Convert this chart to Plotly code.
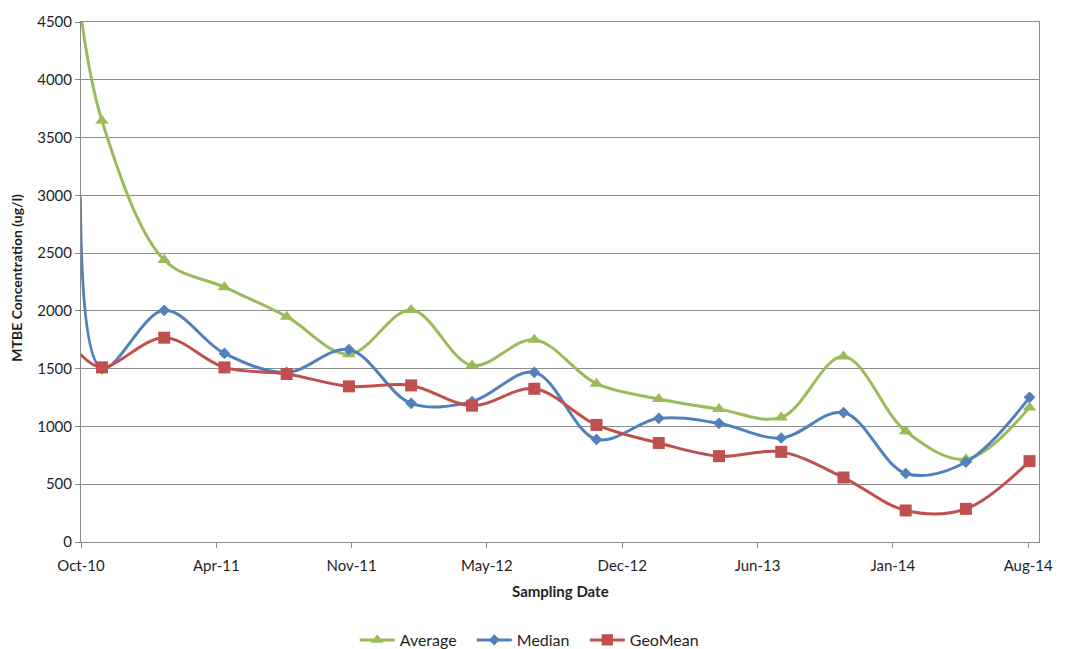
import plotly.graph_objects as go

# Quarterly sampling dates (first round is one day before the axis start)
sample_dates = [
    "2010-09-30", "2010-11-01", "2011-02-01", "2011-05-01", "2011-08-01",
    "2011-11-01", "2012-02-01", "2012-05-01", "2012-08-01", "2012-11-01",
    "2013-02-01", "2013-05-01", "2013-08-01", "2013-11-01", "2014-02-01",
    "2014-05-01", "2014-08-03",
]

# MTBE concentration statistics (ug/l)
average = [4600, 3646, 2440, 2205, 1950, 1625, 2008, 1528, 1750, 1370,
           1238, 1150, 1078, 1605, 958, 717, 1165]
median = [2990, 1500, 2005, 1632, 1468, 1665, 1200, 1215, 1468, 888,
          1070, 1027, 900, 1120, 593, 692, 1252]
geomean = [1625, 1511, 1768, 1511, 1454, 1347, 1355, 1180, 1326, 1013,
           857, 743, 780, 558, 273, 287, 700]

series_names = ["Average", "Median", "GeoMean"]

# Date axis: starts 1 Oct 2010, ticks every 200 days
axis_start = "2010-10-01"
axis_end = "2014-08-17"
tick_step_ms = 200 * 24 * 3600 * 1000

GREEN = "#9BBB59"
BLUE = "#4F81BD"
RED = "#C0504D"
GRID = "#8c8c8c"
TEXT = "#1f1f1f"
FONT = "Lato"

fig = go.Figure()

# one legend per series so each entry sits at its own x position
styles = [
    (average, GREEN, "triangle-up", 12, "legend", 0.2857),
    (median, BLUE, "diamond", 9, "legend2", 0.4079),
    (geomean, RED, "square", 12, "legend3", 0.5259),
]
legend_layouts = {}
for name, (vals, color, symbol, size, leg, leg_x) in zip(series_names, styles):
    # the pre-axis sampling round only shapes the line; no marker for it
    sizes = [0] + [size] * (len(vals) - 1)
    fig.add_trace(go.Scatter(
        x=sample_dates, y=vals, name=name,
        mode="lines+markers",
        line=dict(color=color, width=3, shape="spline", smoothing=1.0),
        marker=dict(symbol=symbol, size=sizes, color=color, opacity=1,
                    line=dict(width=0)),
        cliponaxis=True,
        legend=leg,
    ))
    legend_layouts[leg] = dict(
        orientation="h", x=leg_x, xanchor="left",
        yref="container", y=0.0139, yanchor="middle",
        font=dict(family=FONT, size=16, color=TEXT),
        itemwidth=35, bgcolor="rgba(0,0,0,0)",
    )

fig.update_layout(
    width=1065, height=649,
    margin=dict(l=81, r=18, t=15, b=107),
    paper_bgcolor="white", plot_bgcolor="white",
    font=dict(family=FONT, size=15, color=TEXT),
    showlegend=True,
    xaxis=dict(
        type="date",
        range=[axis_start, axis_end],
        tick0=axis_start, dtick=tick_step_ms,
        tickformat="%b-%y",
        showgrid=False,
        showline=True, linecolor=GRID, linewidth=1, mirror=True,
        ticks="outside", ticklen=5, tickcolor=GRID,
        ticklabelstandoff=5,
        tickfont=dict(family=FONT, size=15, color=TEXT),
        zeroline=False,
    ),
    yaxis=dict(
        range=[0, 4500], dtick=500,
        showgrid=True, gridcolor=GRID, gridwidth=1,
        showline=True, linecolor=GRID, linewidth=1, mirror=True,
        ticks="outside", ticklen=5, tickcolor=GRID,
        tickfont=dict(family=FONT, size=15, color=TEXT),
        zeroline=False,
    ),
    annotations=[
        dict(text="<b>Sampling Date</b>", xref="paper", yref="paper",
             x=0.5, y=-0.095, xanchor="center", yanchor="middle",
             showarrow=False, font=dict(family=FONT, size=15, color=TEXT)),
        dict(text="<b>MTBE Concentration (ug/l)</b>", xref="paper", yref="paper",
             x=-0.067, y=0.508, xanchor="center", yanchor="middle", textangle=-90,
             showarrow=False, font=dict(family=FONT, size=14, color=TEXT)),
    ],
)
fig.update_layout(**legend_layouts)

fig.write_html("out.html")
